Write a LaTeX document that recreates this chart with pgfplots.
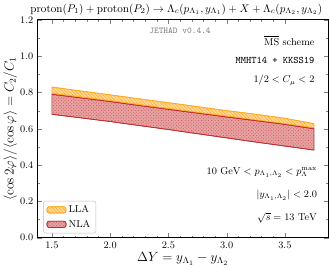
\documentclass[border=0pt]{standalone}
\usepackage{pgfplots}
\pgfplotsset{compat=1.18}
\usepackage{pgfplotstable}
\usepgfplotslibrary{fillbetween}
\usetikzlibrary{patterns}
\definecolor{llaor}{RGB}{255,170,30}
\definecolor{nlafill}{RGB}{225,140,140}
\definecolor{nlaedge}{RGB}{190,40,45}
\pgfplotstableread{
x llalo llahi nlalo nlahi
1.50 0.795 0.830 0.680 0.790
1.75 0.775 0.808 0.660 0.770
2.00 0.755 0.787 0.640 0.750
2.25 0.733 0.765 0.618 0.728
2.50 0.712 0.744 0.596 0.707
2.75 0.690 0.722 0.573 0.686
3.00 0.670 0.700 0.550 0.665
3.25 0.648 0.680 0.527 0.645
3.50 0.628 0.658 0.505 0.624
3.75 0.605 0.628 0.483 0.600
}\data
\begin{document}
\begin{tikzpicture}
\begin{axis}[
  scale only axis, width=262pt, height=196pt,
  xmin=1.375, xmax=3.875, ymin=0, ymax=1.2,
  xtick={1.5,2.0,2.5,3.0,3.5}, ytick={0,0.2,0.4,0.6,0.8,1.0,1.2},
  xticklabels={1.5,2.0,2.5,3.0,3.5},
  yticklabels={0.0,0.2,0.4,0.6,0.8,1.0,1.2},
  minor x tick num=4, minor y tick num=1,
  tick align=inside, ticks=both, xtick pos=both, ytick pos=both,
  major tick length=4pt, minor tick length=2pt,
  tick label style={font=\small},
  xlabel={$\Delta Y = y_{\Lambda_1} - y_{\Lambda_2}$},
  ylabel={$\langle\cos 2\varphi\rangle/\langle\cos\varphi\rangle = C_2/C_1$},
  label style={font=\large},
  xlabel style={yshift=3pt},
  ylabel style={yshift=-4pt},
  title={$\mathrm{proton}(P_1) + \mathrm{proton}(P_2) \to \Lambda_c(p_{\Lambda_1}, y_{\Lambda_1}) + X + \Lambda_c(p_{\Lambda_2}, y_{\Lambda_2})$},
  title style={font=\normalsize, yshift=-5pt, xshift=-6pt},
  axis line style={line width=0.8pt},
  legend style={at={(0.02,0.02)}, anchor=south west, draw=gray!50, rounded corners=2pt, font=\small, row sep=1pt},
  legend cell align=left,
  clip=false,
]
\addplot[draw=llaor, line width=0.6pt, forget plot, name path=lh] table[x=x, y=llahi] {\data};
\addplot[draw=llaor, line width=0.6pt, forget plot, name path=ll] table[x=x, y=llalo] {\data};
\addplot[fill=llaor!45, draw=llaor, line width=0.6pt, postaction={pattern=north west lines, pattern color=llaor}, area legend] fill between[of=lh and ll];
\addlegendentry{LLA}
\addplot[draw=nlaedge, line width=0.6pt, forget plot, name path=nh] table[x=x, y=nlahi] {\data};
\addplot[draw=nlaedge, line width=0.6pt, forget plot, name path=nl] table[x=x, y=nlalo] {\data};
\addplot[fill=nlafill!80, draw=nlaedge, line width=0.6pt, postaction={pattern=crosshatch dots, pattern color=nlaedge!80}, area legend] fill between[of=nh and nl];
\addlegendentry{NLA}
\node[font=\ttfamily\footnotesize, text=gray] at (rel axis cs:0.49,0.95) {JETHAD v0.4.4};
\node[font=\small, anchor=east] at (rel axis cs:0.965,0.905) {$\overline{\mathrm{MS}}$ scheme};
\node[font=\ttfamily\small, anchor=east] at (rel axis cs:0.965,0.815) {MMHT14 + KKSS19};
\node[font=\small, anchor=east] at (rel axis cs:0.965,0.722) {$1/2 < C_\mu < 2$};
\node[font=\small, anchor=east, inner sep=1pt] at (rel axis cs:0.965,0.30) {$10~\mathrm{GeV} < p_{\Lambda_1,\Lambda_2} < p_\Lambda^{\mathrm{max}}$};
\node[font=\small, anchor=east, inner sep=1pt] at (rel axis cs:0.965,0.195) {$|y_{\Lambda_1,\Lambda_2}| < 2.0$};
\node[font=\small, anchor=east, inner sep=1pt] at (rel axis cs:0.965,0.092) {$\sqrt{s} = 13~\mathrm{TeV}$};
\end{axis}
\end{tikzpicture}
\end{document}
